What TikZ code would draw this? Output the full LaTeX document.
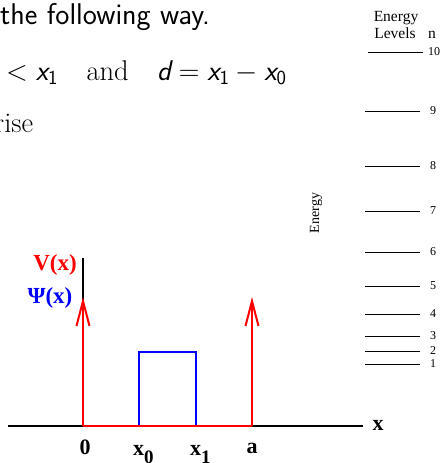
\RequirePackage{fix-cm}
\documentclass[tikz,border=0pt]{standalone}
\usepackage{amsmath}
\usepackage{fontspec}
\newfontfamily\tms{Liberation Serif}
\usetikzlibrary{arrows.meta}
\newcommand\sx{\text{\sffamily\itshape x}}
\newcommand\sd{\text{\sffamily\itshape d}}
\newcommand\sn[1]{\text{\sffamily #1}}
\begin{document}
\begin{tikzpicture}[x=1pt,y=-1pt,
  big/.style={inner sep=0,anchor=base west,font=\fontsize{28.5}{34}\selectfont},
  elab/.style={inner sep=0,font=\tms\fontsize{15.5}{18}\selectfont},
  nlab/.style={inner sep=0,font=\tms\fontsize{12}{14}\selectfont},
  lev/.style={line width=1pt,black},
  dlab/.style={inner sep=0,font=\tms\bfseries\fontsize{23}{26}\selectfont},
  tlab/.style={inner sep=0,font=\tms\bfseries\fontsize{22}{26}\selectfont},
  pot/.style={red,line width=2pt},
  potarrow/.style={pot,-{Straight Barb[length=25pt,width=13pt,line width=2pt]}},
  wave/.style={blue,line width=1.5pt},
  axis/.style={black,line width=1.5pt}]
\useasboundingbox (0,0) rectangle (443,463);
\clip (0,0) rectangle (443,463);
% slide text
\node[big,font=\fontsize{30}{36}\selectfont\sffamily] (t1) at (0,24) {the following way.};
\node[big] (t2) at (6,80) {$<\sx_{\sn{1}}\quad\text{and}\quad\sd=\sx_{\sn{1}}-\sx_{\sn{0}}$};
\node[big] (t3) at (-6,132) {rise};
% energy level panel
\node[elab,anchor=base] (eh1) at (396,21) {Energy};
\node[elab,anchor=base] (eh2) at (395,38) {Levels};
\node[elab,anchor=base] (eh3) at (432,38) {n};
\node[nlab,font=\tms\fontsize{14}{16}\selectfont,rotate=90] (ev) at (316,213) {Energy};
\draw[lev] (368,52) -- (423,52) coordinate (l10);
\node[nlab] (n10) at (434,52) {10};
\foreach \y/\n in {111/9,166/8,211/7,252/6,286/5,314/4,336/3,351/2,364/1}{
  \draw[lev] (365,\y) -- (420,\y) coordinate (l\n);
  \node[nlab] (n\n) at (433,\y) {\n};
}
% axes
\coordinate (O) at (83,426);
\coordinate (A) at (252,426);
\coordinate (X0) at (139,426);
\coordinate (X1) at (196,426);
\coordinate (L) at (8,426);
\coordinate (R) at (363,426);
\coordinate (Vtop) at (83,258);
\draw[axis] (L) -- (R);
\draw[axis] (O) -- (Vtop);
% wave function
\draw[wave] (X0) -- (139,352) -- (196,352) -- (X1);
% potential
\coordinate (Otip) at (83,297);
\coordinate (Atip) at (252,297);
\draw[pot] (O) -- (A);
\draw[potarrow] (O) -- (Otip);
\draw[potarrow] (A) -- (Atip);
% labels
\node[dlab,red] (vl) at (55,265) {V(x)};
\node[dlab,blue] (pl) at (50,298) {Ψ(x)};
\node[tlab] (xl) at (378,425) {x};
\node[tlab] (z) at (85,447) {0};
\node[tlab,anchor=base west] (x0) at (133,455) {x\raisebox{-8pt}{\fontsize{19}{19}\selectfont 0}};
\node[tlab,anchor=base west] (x1) at (190,455) {x\raisebox{-8pt}{\fontsize{19}{19}\selectfont 1}};
\node[tlab] (al) at (252,448) {a};
\end{tikzpicture}
\end{document}
